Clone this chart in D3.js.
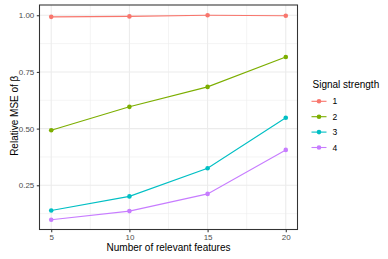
<!DOCTYPE html>
<html>
<head>
<meta charset="utf-8">
<script src="https://cdn.jsdelivr.net/npm/d3@7"></script>
<style>
  body { margin: 0; background: #fff; }
  text { font-family: "Liberation Sans", Arial, sans-serif; }
</style>
</head>
<body>
<div id="chart"></div>
<script>
(function(){

    var features = [5, 10, 15, 20];
    var strengths = ["1", "2", "3", "4"];
    var mse1 = [0.993, 0.995, 1.0, 0.998];
    var mse2 = [0.493, 0.596, 0.684, 0.816];
    var mse3 = [0.139, 0.201, 0.325, 0.548];
    var mse4 = [0.098, 0.136, 0.212, 0.406];
    var colors = ["#F8766D", "#7CAE00", "#00BFC4", "#C77CFF"];
    var yTicks = [0.25, 0.50, 0.75, 1.00];
    var yMinor = [0.125, 0.375, 0.625, 0.875];
    var xMinor = [7.5, 12.5, 17.5];

    var series = [mse1, mse2, mse3, mse4];

    var W = 388, H = 259;
    var left = 39.5, right = 297.5, top = 5, bottom = 229.5;

    var svg = d3.select("#chart")
                .append("svg")
                .attr("width", W)
                .attr("height", H);

    var x = d3.scaleLinear().domain([4.25, 20.75]).range([left, right]);
    var y = d3.scaleLinear().domain([0.0549, 1.0452]).range([bottom, top]);

    // minor grid
    for (var v of xMinor) {
        svg.append("line")
           .attr("x1", x(v)).attr("x2", x(v))
           .attr("y1", top).attr("y2", bottom)
           .attr("stroke", "#EBEBEB").attr("stroke-width", 0.55);
    }
    for (var v of yMinor) {
        svg.append("line")
           .attr("x1", left).attr("x2", right)
           .attr("y1", y(v)).attr("y2", y(v))
           .attr("stroke", "#EBEBEB").attr("stroke-width", 0.55);
    }
    // major grid
    for (var v of features) {
        svg.append("line")
           .attr("x1", x(v)).attr("x2", x(v))
           .attr("y1", top).attr("y2", bottom)
           .attr("stroke", "#EBEBEB").attr("stroke-width", 1.07);
    }
    for (var v of yTicks) {
        svg.append("line")
           .attr("x1", left).attr("x2", right)
           .attr("y1", y(v)).attr("y2", y(v))
           .attr("stroke", "#EBEBEB").attr("stroke-width", 1.07);
    }

    // series
    var line = d3.line()
                 .x(function(d, i){ return x(features[i]); })
                 .y(function(d){ return y(d); });

    series.forEach(function(s, k){
        svg.append("path")
           .attr("d", line(s))
           .attr("fill", "none")
           .attr("stroke", colors[k])
           .attr("stroke-width", 1.1);
        s.forEach(function(d, i){
            svg.append("circle")
               .attr("cx", x(features[i]))
               .attr("cy", y(d))
               .attr("r", 2.3)
               .attr("fill", colors[k]);
        });
    });

    // panel border
    svg.append("rect")
       .attr("x", left).attr("y", top)
       .attr("width", right - left).attr("height", bottom - top)
       .attr("fill", "none")
       .attr("stroke", "#333333").attr("stroke-width", 1.07);

    // axes
    var xAxis = d3.axisBottom(x).tickValues(features).tickSize(2.7).tickPadding(2.5)
                  .tickFormat(d3.format("d"));
    var gx = svg.append("g").attr("transform", "translate(0," + bottom + ")").call(xAxis);
    var yAxis = d3.axisLeft(y).tickValues(yTicks).tickSize(2.7).tickPadding(2.5)
                  .tickFormat(d3.format(".2f"));
    var gy = svg.append("g").attr("transform", "translate(" + left + ",0)").call(yAxis);

    [gx, gy].forEach(function(g){
        g.select(".domain").remove();
        g.selectAll(".tick line").attr("stroke", "#333333").attr("stroke-width", 1.07);
        g.selectAll(".tick text")
         .attr("fill", "#4D4D4D")
         .style("font-size", "8px")
         .style("font-family", "'Liberation Sans', Arial, sans-serif");
    });

    // axis titles
    svg.append("text")
       .attr("x", (left + right) / 2)
       .attr("y", 251)
       .attr("text-anchor", "middle")
       .style("font-size", "10px")
       .attr("fill", "#000")
       .text("Number of relevant features");

    svg.append("text")
       .attr("transform", "translate(18," + ((top + bottom) / 2 - 1.5) + ") rotate(-90)")
       .attr("text-anchor", "middle")
       .style("font-size", "10px")
       .attr("fill", "#000")
       .text("Relative MSE of β");

    // legend
    svg.append("text")
       .attr("x", 312.5)
       .attr("y", 88)
       .style("font-size", "10px")
       .attr("fill", "#000")
       .text("Signal strength");

    strengths.forEach(function(lab, k){
        var ly = 101.3 + k * 15.4;
        svg.append("line")
           .attr("x1", 311.5).attr("x2", 326.5)
           .attr("y1", ly).attr("y2", ly)
           .attr("stroke", colors[k]).attr("stroke-width", 1.1);
        svg.append("circle")
           .attr("cx", 319).attr("cy", ly).attr("r", 2.3)
           .attr("fill", colors[k]);
        svg.append("text")
           .attr("x", 332.5)
           .attr("y", ly + 3)
           .style("font-size", "8.5px")
           .attr("fill", "#000")
           .text(lab);
    });

})();
</script>
</body>
</html>
